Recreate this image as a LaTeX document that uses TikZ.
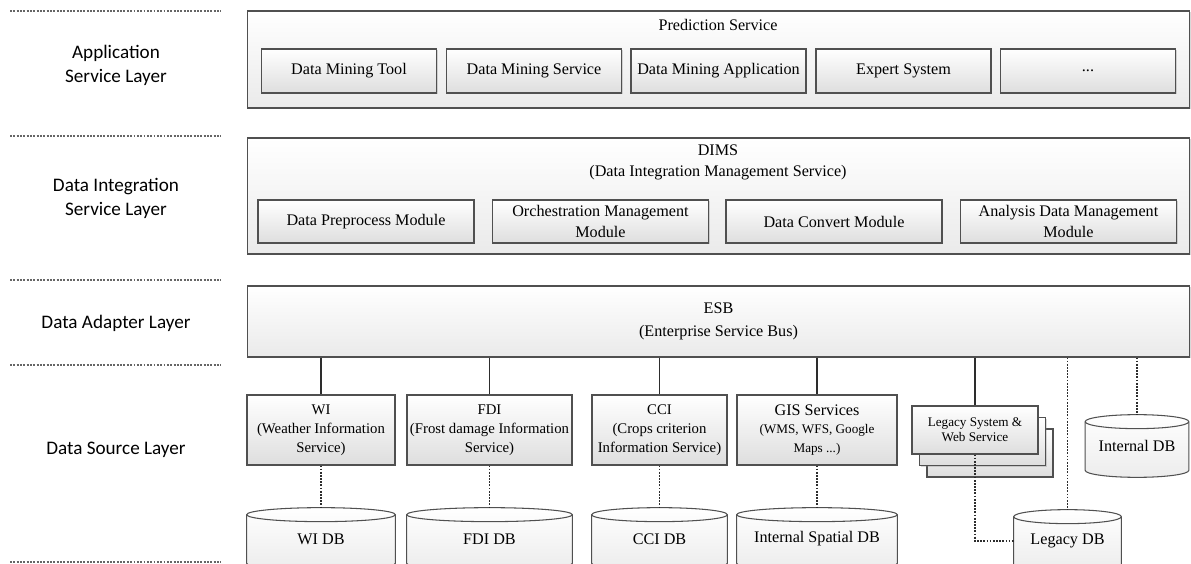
\documentclass[tikz,border=0pt]{standalone}
\usepackage{fontspec}
\setmainfont{Liberation Serif}
\newfontfamily\layerfont{Carlito}
\usetikzlibrary{positioning, calc, shadows, backgrounds}

\definecolor{linegray}{RGB}{80,80,80}
\definecolor{wiregray}{RGB}{45,45,45}
\definecolor{shadegray}{RGB}{222,222,222}
\definecolor{panelgray}{RGB}{234,234,234}
\definecolor{dbgray}{RGB}{236,236,236}

\newcommand{\srcfont}{\fontsize{8.4}{10.8}\selectfont}
\newcommand{\smallfont}{\fontsize{7.5}{8.4}\selectfont}

\newcommand{\dbshape}[1]{%
  \begin{pgfonlayer}{background}
  \path [dbbody] let \p1 = (#1.north west), \p2 = (#1.south east), \n1 = {(\x2-\x1)/2} in
    (\x1,\y1) -- (\x1,\y2) arc [start angle=180, end angle=360, x radius=\n1, y radius=0.14cm]
    -- (\x2,\y1) arc [start angle=0, end angle=180, x radius=\n1, y radius=0.14cm] -- cycle;
  \path [dbedge] let \p1 = (#1.north west), \p2 = (#1.south east), \n1 = {(\x2-\x1)/2} in
    (\x1,\y1) arc [start angle=180, end angle=360, x radius=\n1, y radius=0.14cm];
  \end{pgfonlayer}}

\begin{document}
\begin{tikzpicture}[x=0.02cm, y=-0.02cm, font=\fontsize{9.2}{11.5}\selectfont,
  layer/.style  = {font=\layerfont\fontsize{10.9}{13.6}\selectfont, align=center},
  sep/.style    = {draw=gray!80!black, line width=0.7pt, dash pattern=on 1.1pt off 0.8pt},
  panel/.style  = {draw=linegray, line width=0.6pt, top color=white, bottom color=panelgray,
                   drop shadow={shadow xshift=0.7pt, shadow yshift=-0.8pt, opacity=0.3}, inner sep=0pt},
  box/.style    = {draw=linegray, line width=0.6pt, top color=white, bottom color=shadegray,
                   drop shadow={shadow xshift=0.7pt, shadow yshift=-0.8pt, opacity=0.3}, align=center, inner sep=1pt},
  dbnode/.style = {rectangle, inner sep=0pt, minimum height=0.96cm, align=center},
  dbbody/.style = {draw=linegray, line width=0.6pt, top color=white, bottom color=dbgray},
  dbedge/.style = {draw=linegray, line width=0.6pt},
  link/.style   = {draw=wiregray, line width=0.9pt},
  dots/.style   = {draw=wiregray, line width=1pt, dash pattern=on 1pt off 0.8pt}]

\useasboundingbox (0,0) rectangle (1191,564);

\foreach \y in {11, 136, 280, 365, 562}
  \draw [sep] (10,\y) -- (221,\y);

\node [layer] (lapp) at (116,65)  {Application\\Service Layer};
\node [layer] (lint) at (116,198) {Data Integration\\Service Layer};
\node [layer] (lada) at (116,323) {Data Adapter Layer};
\node [layer] (lsrc) at (116,450) {Data Source Layer};

\node [panel, minimum width=18.86cm, minimum height=1.94cm] (pred)  at (718.5,59.5) {};
\node [                                                   ] (predt) at (718,25)     {Prediction Service};
\node [box  , minimum width=3.5cm , minimum height=0.88cm] (dmt)   at (349,71)     {Data Mining Tool};
\node [box  , minimum width=3.5cm , minimum height=0.88cm] (dms)   at (534,71)     {Data Mining Service};
\node [box  , minimum width=3.5cm , minimum height=0.88cm] (dma)   at (718.5,71)   {Data Mining Application};
\node [box  , minimum width=3.5cm , minimum height=0.88cm] (exps)  at (903.5,71)   {Expert System};
\node [box  , minimum width=3.5cm , minimum height=0.88cm] (more)  at (1088,71)    {...};

\node [panel, minimum width=18.86cm, minimum height=2.32cm] (dims)  at (718.5,196)  {};
\node [align=center, font=\fontsize{9.2}{12}\selectfont   ] (dimst) at (718,162)    {DIMS\\(Data Integration Management Service)};
\node [box  , minimum width=4.32cm, minimum height=0.86cm] (dpm)   at (366,221.5)  {Data Preprocess Module};
\node [box  , minimum width=4.32cm, minimum height=0.86cm] (omm)   at (600.5,221.5){Orchestration Management\\Module};
\node [box  , minimum width=4.32cm, minimum height=0.86cm] (dcm)   at (834,221.5)  {Data Convert Module};
\node [box  , minimum width=4.32cm, minimum height=0.86cm] (adm)   at (1068.5,221.5){Analysis Data Management\\Module};

\node [panel, minimum width=18.86cm, minimum height=1.42cm, align=center, font=\fontsize{9.2}{13}\selectfont] (esb) at (718.5,321.5) {ESB\\(Enterprise Service Bus)};

\node [box, minimum width=2.96cm, minimum height=1.4cm, font=\srcfont] (wi)  at (321,430)   {WI\\(Weather Information\\Service)};
\node [box, minimum width=3.3cm , minimum height=1.4cm, font=\srcfont] (fdi) at (489.5,430) {FDI\\(Frost damage Information\\Service)};
\node [box, minimum width=2.7cm , minimum height=1.4cm, font=\srcfont] (cci) at (659.5,430) {CCI\\(Crops criterion\\Information Service)};
\node [box, minimum width=3.2cm , minimum height=1.4cm               ] (gis) at (817,430)   {GIS Services\\[-1pt]{\smallfont (WMS, WFS, Google}\\[-1pt]{\smallfont Maps ...)}};

\node [box, minimum width=2.52cm, minimum height=0.96cm              ] (legc) at (990,453)   {};
\node [box, minimum width=2.52cm, minimum height=0.96cm              ] (legb) at (982.5,441.5) {};
\node [box, minimum width=2.52cm, minimum height=0.96cm, font=\smallfont] (leg) at (975,430) {Legacy System \&\\Web Service};

\node [dbnode, minimum width=2.96cm] (widb)  at (321,539)    {WI DB};
\node [dbnode, minimum width=3.3cm ] (fdidb) at (489.5,539)  {FDI DB};
\node [dbnode, minimum width=2.7cm ] (ccidb) at (659.5,539)  {CCI DB};
\node [dbnode, minimum width=3.2cm ] (isdb)  at (817,539)    {Internal Spatial DB};
\node [dbnode, minimum width=2.14cm] (ldb)   at (1067.5,541) {Legacy DB};
\node [dbnode, minimum width=2.06cm] (idb)   at (1137,446)   {Internal DB};

\dbshape{widb}
\dbshape{fdidb}
\dbshape{ccidb}
\dbshape{isdb}
\dbshape{ldb}
\dbshape{idb}

\path [draw, link] (esb.south -| wi.north)  edge (wi.north);
\path [draw, link] (esb.south -| fdi.north) edge (fdi.north);
\path [draw, link] (esb.south -| cci.north) edge (cci.north);
\path [draw, link] (esb.south -| gis.north) edge (gis.north);
\path [draw, link] (esb.south -| leg.north) edge (leg.north);

\path [draw, dots] (wi.south)  edge ([yshift=0.14cm]widb.north);
\path [draw, dots] (fdi.south) edge ([yshift=0.14cm]fdidb.north);
\path [draw, dots] (cci.south) edge ([yshift=0.14cm]ccidb.north);
\path [draw, dots] (gis.south) edge ([yshift=0.14cm]isdb.north);

\path [draw, dots] (esb.south -| ldb.north) edge ([yshift=0.14cm]ldb.north);
\path [draw, dots] (esb.south -| idb.north) edge ([yshift=0.14cm]idb.north);
\draw [dots] (leg.south) |- (ldb.west);

\end{tikzpicture}
\end{document}
